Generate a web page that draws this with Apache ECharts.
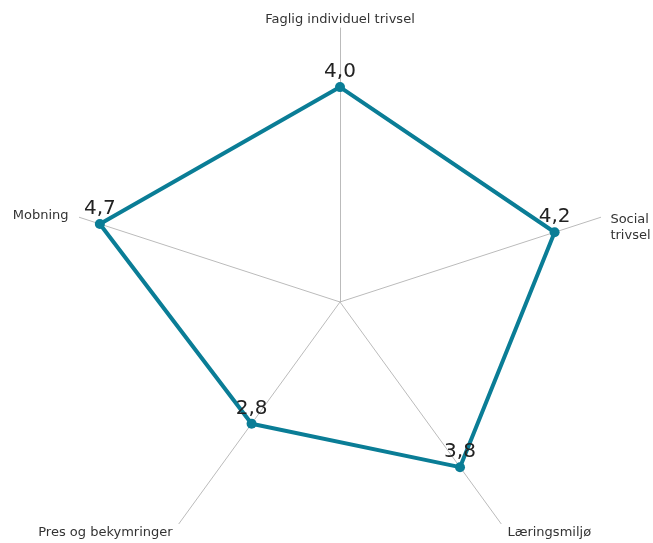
<!DOCTYPE html>
<html><head><meta charset="utf-8">
<script src="https://cdn.jsdelivr.net/npm/echarts@6/dist/echarts.min.js"></script>
<style>html,body{margin:0;padding:0;background:#fff}#c{width:653px;height:543px}</style>
</head><body><div id="c"></div>
<script>
// Ordered counter-clockwise from top (ECharts radar direction)
const indicators = ['Faglig individuel trivsel', 'Mobning', 'Pres og bekymringer', 'Læringsmiljø', 'Social\ntrivsel'];
const values = [4.0, 4.7, 2.8, 3.8, 4.2];
const maxValue = 5.1;

// label nudges: [side of gap ('l'/'r'/''), gap px, spacer line height above, text style]
const nameNudge = {
  'Faglig individuel trivsel': ['', 0, 0, 'nt'],
  'Mobning': ['r', 7, 0, 'n'],
  'Pres og bekymringer': ['r', 4, 12, 'n'],
  'Læringsmiljø': ['l', 4, 12, 'n'],
  'Social\ntrivsel': ['l', 6, 24, 'n']
};

function fmtName(n) {
  const nd = nameNudge[n] || ['', 0, 0, 'n'];
  const st = nd[3];
  const lines = n.split('\n').map(s => {
    if (nd[0] === 'l') return '{g' + nd[1] + '| }{' + st + '|' + s + '}';
    if (nd[0] === 'r') return '{' + st + '|' + s + '}{g' + nd[1] + '| }';
    return '{' + st + '|' + s + '}';
  });
  if (nd[2]) lines.unshift('{sp' + nd[2] + '| }');
  return lines.join('\n');
}

const rich = {
  n: { fontSize: 13, fontFamily: 'DejaVu Sans', color: '#333', lineHeight: 16 },
  nt: { fontSize: 13, fontFamily: 'DejaVu Sans', color: '#333', lineHeight: 9 }
};
[4, 6, 7].forEach(w => rich['g' + w] = { width: w, fontSize: 13 });
[12, 24].forEach(h => rich['sp' + h] = { lineHeight: h, fontSize: 6 });

const chart = echarts.init(document.getElementById('c'));
chart.setOption({
  animation: false,
  radar: {
    center: [340, 302],
    radius: 274,
    startAngle: 90,
    shape: 'polygon',
    indicator: indicators.map(n => ({ name: n, min: 0, max: maxValue })),
    axisName: {
      color: '#333', fontSize: 13, fontFamily: 'DejaVu Sans',
      formatter: fmtName,
      rich: rich
    },
    nameGap: 4,
    splitNumber: 1,
    axisLine: { lineStyle: { color: '#bbb', width: 1 } },
    splitLine: { show: false },
    splitArea: { show: false },
    axisTick: { show: false },
    axisLabel: { show: false }
  },
  series: [{
    type: 'radar',
    data: [{
      value: values,
      symbol: 'circle',
      symbolSize: 10,
      lineStyle: { color: '#0a7d96', width: 4 },
      itemStyle: { color: '#0a7d96' },
      label: {
        show: true, position: 'top', distance: 0,
        fontSize: 20, fontFamily: 'DejaVu Sans', color: '#222',
        formatter: p => p.value.toFixed(1).replace('.', ',')
      }
    }]
  }]
});
</script></body></html>
